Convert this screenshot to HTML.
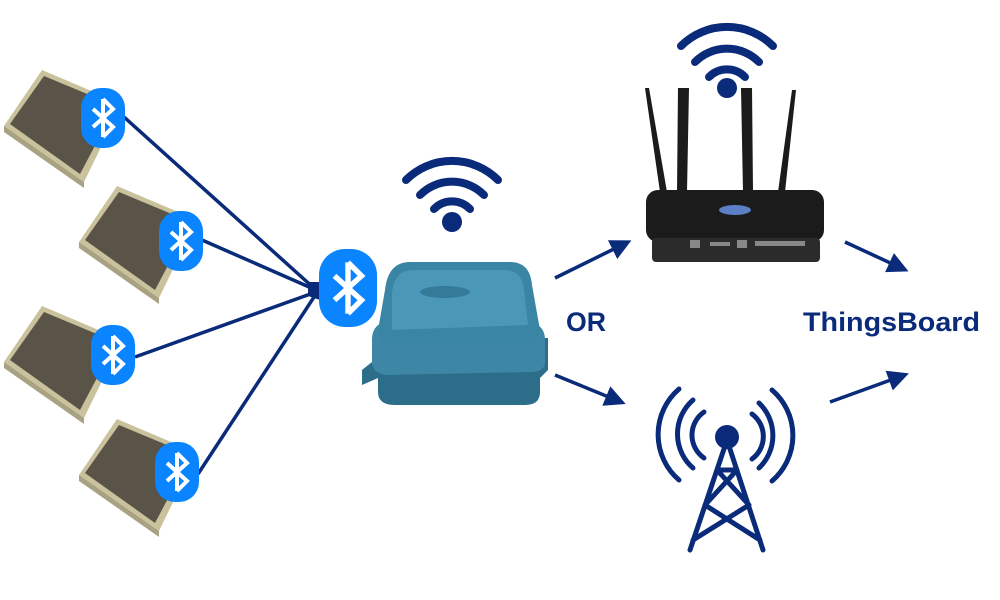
<!DOCTYPE html>
<html><head><style>body{margin:0;background:#fff}svg{display:block}</style></head><body>
<svg width="1000" height="600" viewBox="0 0 1000 600" xmlns="http://www.w3.org/2000/svg">
<defs>
<g id="sensor">
<polygon points="42,70 122,104 84,182 4,126" fill="#c9c29c"/>
<polygon points="44,76 116,106 80,174 10,124" fill="#5a5348"/>
<polygon points="4,126 84,182 84,188 4,132" fill="#a8a282"/>
</g>
<g id="bt">
<path d="M0,-19 V19 M-10,-9 L10,9 L0,19 M-10,9 L10,-9 L0,-19" fill="none" stroke="#fff" stroke-width="4" stroke-linejoin="miter"/>
</g>
<marker id="ah" markerWidth="6" markerHeight="6" refX="3" refY="3" orient="auto" markerUnits="strokeWidth"><path d="M0,0 L6,3 L0,6 z" fill="#0a2a7a"/></marker>
</defs>
<use href="#sensor"/>
<use href="#sensor" transform="translate(75,116)"/>
<use href="#sensor" transform="translate(0,236)"/>
<use href="#sensor" transform="translate(75,349)"/>
<g stroke="#0a2a7a" stroke-width="3.5" fill="none">
<line x1="124" y1="117" x2="316" y2="290"/>
<line x1="202" y1="240" x2="316" y2="290"/>
<line x1="135" y1="357" x2="316" y2="292"/>
<line x1="198" y1="474" x2="316" y2="294"/>
</g>
<polygon points="308,282 320,282 320,300 308,296" fill="#0a2a7a"/>
<g fill="#0a84ff">
<rect x="81" y="88" width="44" height="60" rx="20"/>
<rect x="159" y="211" width="44" height="60" rx="20"/>
<rect x="91" y="325" width="44" height="60" rx="20"/>
<rect x="155" y="442" width="44" height="60" rx="20"/>
<rect x="319" y="249" width="58" height="78" rx="26"/>
</g>
<use href="#bt" transform="translate(103,118)"/>
<use href="#bt" transform="translate(181,241)"/>
<use href="#bt" transform="translate(113,355)"/>
<use href="#bt" transform="translate(177,472)"/>
<use href="#bt" transform="translate(348,288) scale(1.35)"/>
<!-- gateway box -->
<path d="M362,370 L372,362 L372,338 L548,338 L548,370 L540,378 L540,392 Q540,405 525,405 L395,405 Q378,405 378,392 L378,378 L362,385 Z" fill="#2c6d8a"/>
<path d="M372,340 Q372,325 385,322 L530,322 Q545,325 545,340 L545,362 Q545,372 530,372 L385,375 Q372,372 372,362 Z" fill="#3d86a6"/>
<path d="M385,290 Q388,262 410,262 L510,262 Q530,262 532,285 L540,330 Q540,345 520,345 L395,345 Q378,345 378,330 Z" fill="#3a84a4"/>
<path d="M392,292 Q395,270 412,270 L505,270 Q522,270 524,290 L528,325 L392,330 Z" fill="#4a97b8"/>
<ellipse cx="445" cy="292" rx="25" ry="6" fill="#357a99"/>
<!-- wifi -->
<g fill="none" stroke="#0a2a7a" stroke-width="8" stroke-linecap="round">
<path d="M406,180 A65,65 0 0 1 498,180"/>
<path d="M420,195 A45,45 0 0 1 484,195"/>
<path d="M434,209 A25,25 0 0 1 470,209"/>
<path d="M681,46 A65,65 0 0 1 773,46"/>
<path d="M695,62 A45,45 0 0 1 759,62"/>
<path d="M709,77 A25,25 0 0 1 745,77"/>
</g>
<circle cx="452" cy="222" r="10" fill="#0a2a7a"/>
<circle cx="727" cy="88" r="10" fill="#0a2a7a"/>
<!-- router -->
<g fill="#1b1b1b">
<polygon points="645,88 649,88 667,192 660,192"/>
<polygon points="678,88 689,88 687,192 677,192"/>
<polygon points="741,88 752,88 753,192 743,192"/>
<polygon points="792,90 796,90 785,192 778,192"/>
<rect x="646" y="190" width="178" height="52" rx="12"/>
<rect x="652" y="238" width="168" height="24" rx="4" fill="#2b2b2b"/>
</g>
<ellipse cx="735" cy="210" rx="16" ry="5" fill="#5a7fc4"/>
<g fill="#888"><rect x="690" y="240" width="10" height="8"/><rect x="737" y="240" width="10" height="8"/><rect x="755" y="241" width="50" height="5"/><rect x="710" y="242" width="20" height="4"/></g>
<!-- arrows -->
<g stroke="#0a2a7a" stroke-width="3.5" marker-end="url(#ah)">
<line x1="555" y1="278" x2="622" y2="245"/>
<line x1="555" y1="375" x2="616" y2="400"/>
<line x1="845" y1="242" x2="899" y2="267"/>
<line x1="830" y1="402" x2="899" y2="377"/>
</g>
<!-- tower -->
<g fill="none" stroke="#0a2a7a" stroke-width="5" stroke-linecap="round">
<path d="M679,389 A60,60 0 0 0 679,480"/>
<path d="M693,400 A45,45 0 0 0 693,468"/>
<path d="M704,412 A28,28 0 0 0 704,458"/>
<path d="M772,390 A60,60 0 0 1 772,481"/>
<path d="M759,403 A45,45 0 0 1 759,468"/>
<path d="M752,414 A28,28 0 0 1 752,459"/>
<path d="M727,440 L690,550 M727,440 L763,550 M717,470 L737,470 M717,470 L749,505 M737,470 L705,505 M705,505 L760,540 M749,505 L693,540" stroke-linecap="round" stroke-linejoin="round"/>
</g>
<circle cx="727" cy="437" r="12" fill="#0a2a7a"/>
<g font-family="Liberation Sans, sans-serif" font-weight="bold" fill="#0a2a7a" font-size="27">
<text x="566" y="331" textLength="40" lengthAdjust="spacingAndGlyphs">OR</text>
<text x="803" y="331" textLength="177" lengthAdjust="spacingAndGlyphs">ThingsBoard</text>
</g>
</svg>
</body></html>
